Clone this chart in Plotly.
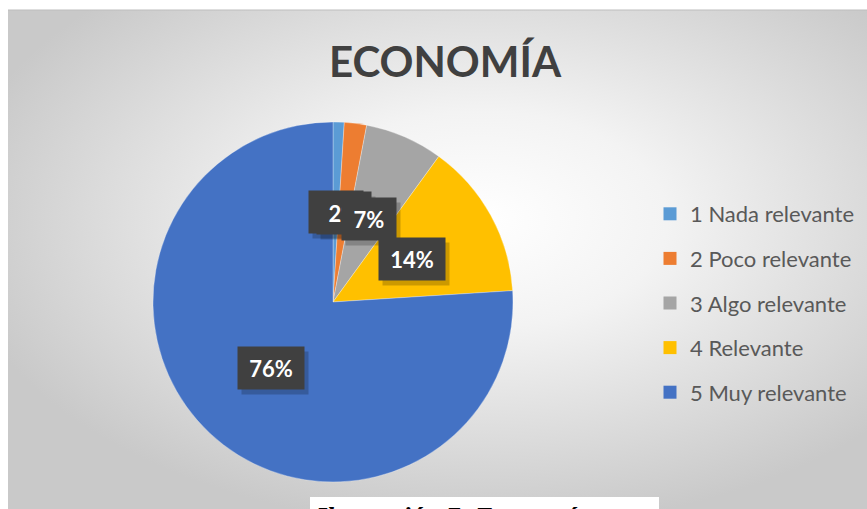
import base64, math
import plotly.graph_objects as go

W, H = 867, 509

categories = ["1 Nada relevante", "2 Poco relevante", "3 Algo relevante", "4 Relevante", "5 Muy relevante"]
values = [1, 2, 7, 14, 76]
colors = ["#5B9BD5", "#ED7D31", "#A5A5A5", "#FFC000", "#4472C4"]
title_text = "ECONOMÍA"
caption_text = "Ilustración 7: Economía"

# pie geometry (paper fractions)
pie_cx, pie_cy, pie_r = 333, 302, 180
dom_x = [(pie_cx - pie_r) / W, (pie_cx + pie_r) / W]
dom_y = [(H - pie_cy - pie_r) / H, (H - pie_cy + pie_r) / H]

fig = go.Figure()
fig.add_trace(go.Pie(
    labels=categories, values=values, sort=False, direction="clockwise", rotation=0,
    marker=dict(colors=colors, line=dict(color="rgba(255,255,255,0.6)", width=0.5)),
    textinfo="none", hoverinfo="label+percent", showlegend=False,
    domain=dict(x=dom_x, y=dom_y),
))

# legend entries (one group each so spacing can be set)
for cat, col in zip(categories, colors):
    fig.add_trace(go.Scatter(
        x=[None], y=[None], mode="markers", name=cat, legendgroup=cat,
        marker=dict(symbol="square", size=13, color=col),
    ))

# data labels at the middle of each slice
total = sum(values)
cum = 0
annotations = []
cxp = (dom_x[0] + dom_x[1]) / 2
cyp = (dom_y[0] + dom_y[1]) / 2
Rpx = min((dom_x[1] - dom_x[0]) * W, (dom_y[1] - dom_y[0]) * H) / 2
for v in values:
    mid = (cum + v / 2) / total * 2 * math.pi
    cum += v
    txt = f"{round(v / total * 100)}%"
    ax = cxp + 0.5 * Rpx * math.sin(mid) / W
    ay = cyp + 0.5 * Rpx * math.cos(mid) / H
    wbox = 12 * len(txt) + 28
    annotations.append(dict(
        x=ax, y=ay, xref="paper", yref="paper", xanchor="center", yanchor="middle",
        text=txt, showarrow=False,
        xshift=4, yshift=-5, width=wbox, height=40,
        bgcolor="rgba(0,0,0,0.2)", font=dict(size=20, color="rgba(0,0,0,0)", family="Lato"),
    ))
    annotations.append(dict(
        x=ax, y=ay, xref="paper", yref="paper", xanchor="center", yanchor="middle",
        text=f"<b>{txt}</b>", showarrow=False,
        width=wbox, height=40, bgcolor="#404040",
        font=dict(size=22, color="white", family="Lato"),
    ))

# caption at bottom (partially cut)
annotations.append(dict(
    x=313 / W, y=(H - 500) / H, xref="paper", yref="paper", xanchor="left", yanchor="top",
    text=f"<b><i>{caption_text}</i></b>", showarrow=False,
    font=dict(size=27, color="black", family="Liberation Serif"),
))

# radial-gradient background as an SVG image
svg = ('<svg xmlns="http://www.w3.org/2000/svg" width="859" height="499" viewBox="0 0 859 499" preserveAspectRatio="none">'
       '<defs><radialGradient id="g" cx="0.55" cy="0.42" r="0.62" gradientUnits="objectBoundingBox">'
       '<stop offset="0" stop-color="#ffffff"/><stop offset="0.35" stop-color="#f3f3f3"/>'
       '<stop offset="1" stop-color="#c9c9c9"/></radialGradient></defs>'
       '<rect width="859" height="499" fill="url(#g)"/></svg>')
src = "data:image/svg+xml;base64," + base64.b64encode(svg.encode()).decode()

fig.update_layout(
    width=W, height=H, margin=dict(l=0, r=0, t=0, b=0),
    paper_bgcolor="white", plot_bgcolor="rgba(0,0,0,0)",
    xaxis=dict(visible=False), yaxis=dict(visible=False),
    title=dict(text=title_text, x=445 / W, xanchor="center", y=1 - 62 / H, yanchor="middle",
               font=dict(family="Lato", size=42, color="#404040", weight="bold")),
    legend=dict(x=650 / W, xanchor="left", y=1 - 193 / H, yanchor="top",
                font=dict(family="Lato", size=22, color="#595959"),
                bgcolor="rgba(0,0,0,0)", tracegroupgap=13, traceorder="grouped",
                itemclick=False),
    images=[dict(source=src, xref="paper", yref="paper", x=8 / W, y=1 - 10 / H,
                 sizex=(W - 8) / W, sizey=(H - 10) / H, xanchor="left", yanchor="top",
                 sizing="stretch", layer="below")],
    shapes=[
        dict(type="line", xref="paper", yref="paper", x0=8 / W, x1=1, y0=1 - 10 / H, y1=1 - 10 / H,
             line=dict(color="#bdbdbd", width=1)),
        dict(type="rect", xref="paper", yref="paper", x0=310 / W, x1=659 / W, y0=-0.05, y1=(H - 497) / H,
             fillcolor="white", line=dict(width=0), layer="above"),
    ],
    annotations=annotations,
    showlegend=True,
)

fig.write_html("out.html")
